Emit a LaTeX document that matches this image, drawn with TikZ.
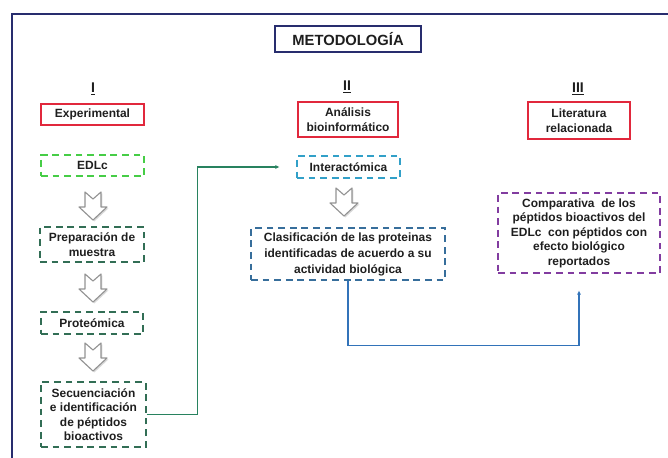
\documentclass[tikz,border=0pt]{standalone}
\usepackage{fontspec}
\setmainfont{Liberation Sans}
\usepackage{tikz}
\usetikzlibrary{arrows.meta, shadows}
\definecolor{boxred}{RGB}{225,40,60}
\definecolor{navy}{RGB}{40,45,110}
\definecolor{limegreen}{RGB}{70,205,70}
\definecolor{darkgreen}{RGB}{50,110,85}
\definecolor{cyanbox}{RGB}{50,160,200}
\definecolor{steelbox}{RGB}{55,110,155}
\definecolor{purplebox}{RGB}{130,60,160}
\definecolor{greenline}{RGB}{40,130,95}
\definecolor{blueline}{RGB}{50,115,185}
\definecolor{textgray}{RGB}{30,30,30}
\newcommand{\hollowarrow}[1]{\filldraw[hollow] (#1) ++(-8,-14) -- ++(8,7) -- ++(8,-7) -- ++(0,15) -- ++(6,0) -- ++(-14,13) -- ++(-14,-13) -- ++(6,0) -- cycle;}

\begin{document}
\begin{tikzpicture}[x=0.025cm, y=-0.025cm]
\tikzstyle{box}=[draw, line width=0.8pt, align=center, inner sep=1pt, text=textgray, font=\fontsize{8.5}{10.3}\selectfont\bfseries]
\tikzstyle{solidbox}=[box, draw=boxred]
\tikzstyle{dashbox}=[box, dash pattern=on 0.17cm off 0.12cm]
\tikzstyle{numeral}=[text=textgray, font=\fontsize{10}{12}\selectfont\bfseries]
\tikzstyle{hollow}=[draw=gray!85, fill=white, line width=0.8pt, line join=round, drop shadow={shadow xshift=1pt, shadow yshift=-1pt, opacity=0.3}]
\tikzstyle{link}=[line width=0.9pt, -{Latex[length=3pt, width=3pt]}, shorten >=12]
\useasboundingbox (0,0) rectangle (668,458);
\draw[navy, line width=1.2pt] (12,458) -- (12,14) -- (668,14);

\node[box, draw=navy, line width=1pt, minimum width=3.65cm, minimum height=0.65cm, font=\fontsize{10.5}{12}\selectfont\bfseries] (title) at (348,39) {METODOLOGÍA};

\node[numeral] (numI) at (93,89) {\underline{I}};
\node[numeral] (numII) at (347,87) {\underline{II}};
\node[numeral] (numIII) at (578,89) {\underline{III}};

% I
\node[solidbox, minimum width=2.575cm, minimum height=0.525cm] (exper) at (92.5,114.5) {Experimental};
\node[dashbox, draw=limegreen, minimum width=2.575cm, minimum height=0.525cm] (edlc) at (92.5,165.5) {EDLc};
\node[dashbox, draw=darkgreen, minimum width=2.6cm, minimum height=0.875cm] (prep) at (92,244.5) {Preparación de\\muestra};
\node[dashbox, draw=darkgreen, minimum width=2.55cm, minimum height=0.55cm] (prot) at (92,323) {Proteómica};
\node[dashbox, draw=darkgreen, minimum width=2.625cm, minimum height=1.625cm] (secu) at (93.5,414.5) {Secuenciación\\e identificación\\de péptidos\\bioactivos};

% II
\node[solidbox, minimum width=2.5cm, minimum height=0.875cm] (anal) at (348,119.5) {Análisis\\bioinformático};
\node[dashbox, draw=cyanbox, minimum width=2.575cm, minimum height=0.55cm] (inter) at (348.5,167) {Interactómica};
\node[dashbox, draw=steelbox, minimum width=4.85cm, minimum height=1.3cm, font=\fontsize{8.5}{11.4}\selectfont\bfseries] (clas) at (348,254) {Clasificación de las proteinas\\identificadas de acuerdo a su\\actividad biológica};

% III
\node[solidbox, minimum width=2.55cm, minimum height=0.925cm] (lit) at (579,120.5) {Literatura\\relacionada};
\node[dashbox, draw=purplebox, minimum width=4.05cm, minimum height=2cm] (comp) at (579,233) {Comparativa \ de los\\péptidos bioactivos del\\EDLc \ con péptidos con\\efecto biológico\\reportados};

\hollowarrow{93,206}
\hollowarrow{93,288}
\hollowarrow{93,357}
\hollowarrow{344,202}

\draw[link, greenline] (secu.east) -- ++(51,0) |- (inter.west);
\draw[link, blueline] (clas.south) -- ++(0,65) -| (comp.south);
\end{tikzpicture}
\end{document}
